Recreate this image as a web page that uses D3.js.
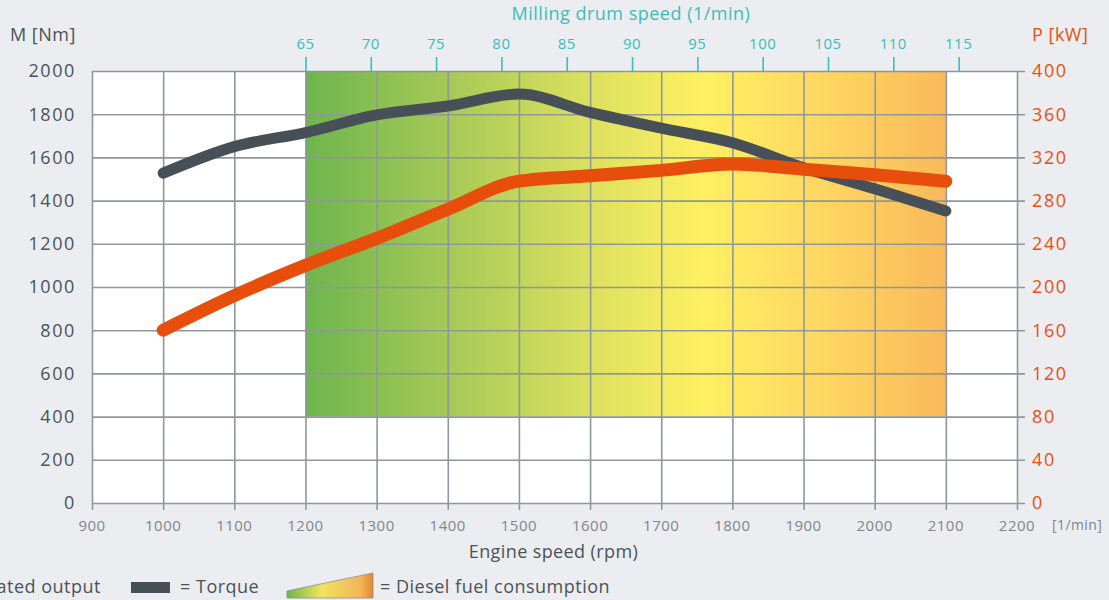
<!DOCTYPE html>
<html lang="en">
<head>
    <meta charset="UTF-8">
    <title>Engine performance curves</title>
    <script src="https://d3js.org/d3.v7.min.js"></script>
    <style>
        body {
            margin: 0;
            background: #ebedf0;
            font-family: "Open Sans", Lato, sans-serif;
        }
        svg { display: block; }
    </style>
</head>
<body>
    <div id="chart"></div>

    <script>
        // Engine speed (rpm) for each measured point
        const engineSpeed = [1000, 1100, 1200, 1300, 1400, 1500, 1600, 1700, 1800, 1900, 2000, 2100];
        // Torque M [Nm]
        const torque = [1527, 1650, 1715, 1797, 1838, 1893, 1808, 1735, 1668, 1552, 1455, 1352];
        // Power P [kW]
        const power = [160, 192, 220, 245, 272, 298, 303, 308, 314, 309, 304, 298];

        const torqueTicks = [0, 200, 400, 600, 800, 1000, 1200, 1400, 1600, 1800, 2000];
        const powerTicks = [0, 40, 80, 120, 160, 200, 240, 280, 320, 360, 400];
        const speedTicks = [900, 1000, 1100, 1200, 1300, 1400, 1500, 1600, 1700, 1800, 1900, 2000, 2100, 2200];
        const drumTicks = [65, 70, 75, 80, 85, 90, 95, 100, 105, 110, 115];

        // fuel consumption band: rpm range and torque range
        const fuelRpm = [1200, 2100];
        const fuelTorque = [400, 2000];
        const fuelStops = [
            { offset: "0%", color: "#6db54e" },
            { offset: "22%", color: "#a6c957" },
            { offset: "45%", color: "#dde15f" },
            { offset: "62%", color: "#fef062" },
            { offset: "80%", color: "#fed862" },
            { offset: "100%", color: "#f9b95a" }
        ];

        const W = 1109, H = 600;
        const mLeft = 92, mRight = 1017, mTop = 71, mBottom = 503;

        const svg = d3.select("#chart").append("svg")
            .attr("width", W).attr("height", H);

        const x = d3.scaleLinear().domain([900, 2200]).range([mLeft, mRight]);
        const y = d3.scaleLinear().domain([0, 2000]).range([mBottom, mTop]);
        const yP = d3.scaleLinear().domain([0, 400]).range([mBottom, mTop]);
        // drum speed 65 sits at 1200 rpm
        const xDrum = d3.scaleLinear().domain([65, 115]).range([x(1200), x(2118)]);

        const gridColor = "#8f979b";
        const textDark = "#4a5358";

        // plot background
        svg.append("rect")
            .attr("x", mLeft).attr("y", mTop)
            .attr("width", mRight - mLeft).attr("height", mBottom - mTop)
            .attr("fill", "#ffffff");

        const defs = svg.append("defs");
        const grad = defs.append("linearGradient").attr("id", "fuel")
            .attr("x1", "0%").attr("x2", "100%").attr("y1", "0%").attr("y2", "0%");
        grad.selectAll("stop").data(fuelStops).join("stop")
            .attr("offset", d => d.offset).attr("stop-color", d => d.color);

        svg.append("rect")
            .attr("x", x(fuelRpm[0])).attr("y", y(fuelTorque[1]))
            .attr("width", x(fuelRpm[1]) - x(fuelRpm[0]))
            .attr("height", y(fuelTorque[0]) - y(fuelTorque[1]))
            .attr("fill", "url(#fuel)");

        // grid
        svg.append("g")
            .attr("transform", `translate(0,${mBottom})`)
            .call(d3.axisBottom(x).tickValues(speedTicks).tickSize(-(mBottom - mTop)).tickSizeOuter(0).tickFormat(""))
            .call(g => g.select(".domain").remove())
            .call(g => g.selectAll("line").attr("stroke", gridColor).attr("stroke-width", 1.6).attr("y1", 7));

        svg.append("g")
            .attr("transform", `translate(${mLeft},0)`)
            .call(d3.axisLeft(y).tickValues(torqueTicks).tickSize(8).tickFormat(""))
            .call(g => g.select(".domain").remove())
            .call(g => g.selectAll("line").attr("stroke", gridColor).attr("stroke-width", 1.6).attr("x2", mRight - mLeft + 8));

        // left labels
        svg.append("g").selectAll("text").data(torqueTicks).join("text")
            .attr("x", 76).attr("y", d => y(d)).attr("dy", "0.36em")
            .attr("text-anchor", "end").attr("font-size", 18).attr("letter-spacing", 1.6)
            .attr("fill", textDark)
            .text(d => d);

        // right labels
        svg.append("g").selectAll("text").data(powerTicks).join("text")
            .attr("x", 1032).attr("y", d => yP(d)).attr("dy", "0.36em")
            .attr("text-anchor", "start").attr("font-size", 18).attr("letter-spacing", 1.6)
            .attr("fill", "#e8500e")
            .text(d => d);

        // bottom labels
        svg.append("g").selectAll("text").data(speedTicks).join("text")
            .attr("x", d => x(d)).attr("y", 531)
            .attr("text-anchor", "middle").attr("font-size", 15).attr("letter-spacing", 0.5)
            .attr("fill", "#7e878c")
            .text(d => d);

        svg.append("text").attr("x", 1052).attr("y", 530)
            .attr("font-size", 14).attr("letter-spacing", 0.4).attr("fill", "#7e878c").text("[1/min]");

        svg.append("text").attr("x", (mLeft + mRight) / 2 - 1).attr("y", 558)
            .attr("text-anchor", "middle").attr("font-size", 18).attr("letter-spacing", 0.4)
            .attr("fill", textDark)
            .text("Engine speed (rpm)");

        svg.append("text").attr("x", 10).attr("y", 41)
            .attr("font-size", 18).attr("letter-spacing", 0.5).attr("fill", textDark).text("M [Nm]");
        svg.append("text").attr("x", 1032).attr("y", 41)
            .attr("font-size", 18).attr("letter-spacing", 0.5).attr("fill", "#e8500e").text("P [kW]");

        // top drum speed axis
        const teal = "#3dbcbc";
        svg.append("g")
            .attr("transform", `translate(0,${mTop})`)
            .call(d3.axisTop(xDrum).tickValues(drumTicks).tickSize(14).tickFormat(""))
            .call(g => g.select(".domain").remove())
            .call(g => g.selectAll("line").attr("stroke", teal).attr("stroke-width", 1.6));
        svg.append("g").selectAll("text").data(drumTicks).join("text")
            .attr("x", d => xDrum(d)).attr("y", 49)
            .attr("text-anchor", "middle").attr("font-size", 15).attr("letter-spacing", 0.5)
            .attr("fill", teal)
            .text(d => d);
        svg.append("text").attr("x", 631).attr("y", 20)
            .attr("text-anchor", "middle").attr("font-size", 18).attr("letter-spacing", 0.5)
            .attr("fill", teal)
            .text("Milling drum speed (1/min)");

        // curves
        const torqueLine = d3.line().curve(d3.curveMonotoneX)
            .x((d, i) => x(engineSpeed[i])).y(d => y(d));
        const powerLine = d3.line().curve(d3.curveMonotoneX)
            .x((d, i) => x(engineSpeed[i])).y(d => yP(d));

        svg.append("path").datum(torque)
            .attr("fill", "none").attr("stroke", "#465056").attr("stroke-width", 11)
            .attr("stroke-linecap", "round").attr("stroke-linejoin", "round")
            .attr("d", torqueLine);

        svg.append("path").datum(power)
            .attr("fill", "none").attr("stroke", "#e84e0b").attr("stroke-width", 13)
            .attr("stroke-linecap", "round").attr("stroke-linejoin", "round")
            .attr("d", powerLine);

        // legend (first entry runs off the left edge, as in the source)
        const legend = svg.append("g").attr("font-size", 18).attr("letter-spacing", 0.5).attr("fill", textDark);
        legend.append("rect").attr("x", -70).attr("y", 582).attr("width", 39).attr("height", 11).attr("fill", "#e84e0b");
        legend.append("text").attr("x", 101).attr("y", 593).attr("text-anchor", "end").text("= Rated output");
        legend.append("rect").attr("x", 131).attr("y", 582).attr("width", 39).attr("height", 11).attr("fill", "#465056");
        legend.append("text").attr("x", 180).attr("y", 593).text("= Torque");

        const lgGrad = defs.append("linearGradient").attr("id", "fuelLegend")
            .attr("x1", "0%").attr("x2", "100%");
        lgGrad.append("stop").attr("offset", "0%").attr("stop-color", "#6db54e");
        lgGrad.append("stop").attr("offset", "40%").attr("stop-color", "#f0e45e");
        lgGrad.append("stop").attr("offset", "85%").attr("stop-color", "#f2b65a");
        lgGrad.append("stop").attr("offset", "100%").attr("stop-color", "#e4892a");
        legend.append("path")
            .attr("d", "M287,591 L373,573 L373,598 L287,598 Z")
            .attr("fill", "url(#fuelLegend)").attr("stroke", "#8a8f8f").attr("stroke-width", 0.8);
        legend.append("text").attr("x", 380).attr("y", 593).text("= Diesel fuel consumption");
    </script>
</body>
</html>
